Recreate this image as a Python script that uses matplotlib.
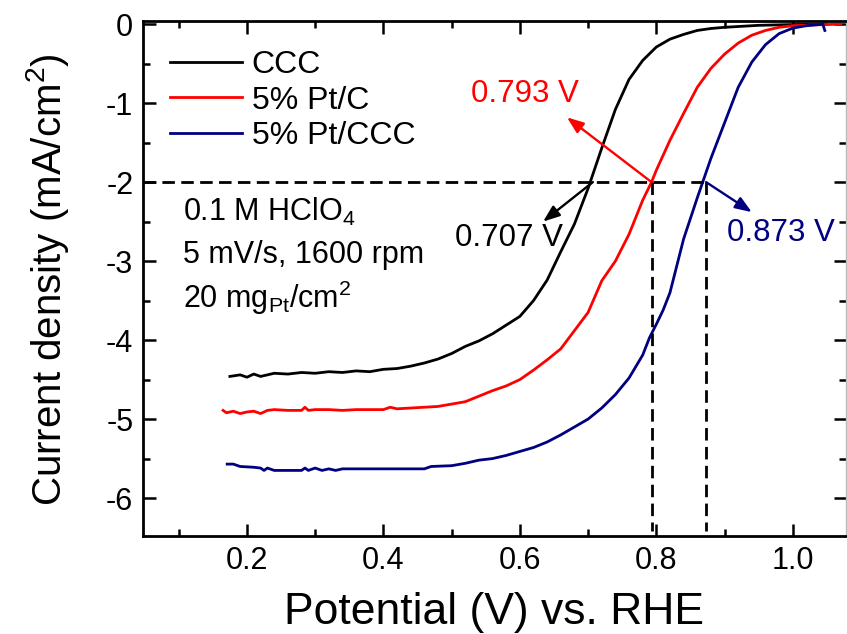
import matplotlib
matplotlib.use("Agg")
import matplotlib.pyplot as plt

plt.rcParams['font.family'] = ['Liberation Sans', 'DejaVu Sans']
plt.rcParams['mathtext.fontset'] = 'custom'
plt.rcParams['mathtext.rm'] = 'Liberation Sans'
plt.rcParams['mathtext.it'] = 'Liberation Sans:italic'
plt.rcParams['mathtext.default'] = 'regular'

# ---- data ----
ccc_v = [0.175, 0.19, 0.20, 0.21, 0.22, 0.23, 0.24, 0.26, 0.28, 0.30, 0.32, 0.34,
         0.36, 0.38, 0.40, 0.42, 0.44, 0.46, 0.48, 0.50, 0.52, 0.54, 0.56, 0.58,
         0.60, 0.62, 0.64, 0.66, 0.68, 0.70, 0.72, 0.74, 0.76, 0.78, 0.80, 0.82,
         0.84, 0.86, 0.88, 0.90, 0.95, 1.00, 1.05]
ccc_j = [-4.46, -4.44, -4.47, -4.43, -4.46, -4.44, -4.42, -4.43, -4.41, -4.42, -4.40, -4.41,
         -4.39, -4.40, -4.37, -4.36, -4.33, -4.29, -4.24, -4.17, -4.08, -4.01, -3.92, -3.81,
         -3.70, -3.50, -3.24, -2.88, -2.53, -2.08, -1.57, -1.08, -0.70, -0.46, -0.29, -0.19,
         -0.13, -0.08, -0.055, -0.04, -0.015, -0.005, 0.0]

ptc_v = [0.165, 0.17, 0.18, 0.19, 0.20, 0.21, 0.22, 0.23, 0.24, 0.26, 0.28, 0.285,
         0.29, 0.30, 0.32, 0.34, 0.36, 0.38, 0.40, 0.41, 0.42, 0.44, 0.46, 0.48,
         0.50, 0.52, 0.54, 0.56, 0.58, 0.60, 0.62, 0.64, 0.66, 0.68, 0.70, 0.72,
         0.74, 0.76, 0.78, 0.793, 0.80, 0.82, 0.84, 0.86, 0.88, 0.90, 0.92, 0.94,
         0.96, 0.98, 1.00, 1.03, 1.07]
ptc_j = [-4.89, -4.92, -4.90, -4.93, -4.91, -4.90, -4.93, -4.89, -4.88, -4.89, -4.89, -4.85,
         -4.89, -4.88, -4.88, -4.89, -4.88, -4.88, -4.88, -4.85, -4.87, -4.86, -4.85, -4.84,
         -4.81, -4.78, -4.71, -4.64, -4.58, -4.50, -4.38, -4.25, -4.11, -3.88, -3.65, -3.25,
         -3.00, -2.66, -2.23, -2.00, -1.85, -1.47, -1.13, -0.80, -0.56, -0.38, -0.24, -0.14,
         -0.08, -0.04, -0.02, -0.01, 0.0]

ptccc_v = [0.171, 0.18, 0.19, 0.21, 0.22, 0.225, 0.23, 0.24, 0.26, 0.28, 0.285, 0.29,
           0.30, 0.31, 0.32, 0.33, 0.34, 0.40, 0.46, 0.47, 0.50, 0.52, 0.54, 0.56,
           0.58, 0.60, 0.62, 0.64, 0.66, 0.68, 0.70, 0.72, 0.74, 0.76, 0.78, 0.79,
           0.80, 0.81, 0.82, 0.84, 0.86, 0.87, 0.88, 0.90, 0.92, 0.94, 0.96, 0.98,
           1.00, 1.02, 1.044, 1.047]
ptccc_j = [-5.57, -5.57, -5.60, -5.61, -5.62, -5.65, -5.62, -5.65, -5.65, -5.65, -5.62, -5.65,
           -5.62, -5.65, -5.63, -5.65, -5.63, -5.63, -5.63, -5.60, -5.59, -5.56, -5.52, -5.50,
           -5.46, -5.41, -5.36, -5.29, -5.20, -5.10, -5.00, -4.86, -4.69, -4.48, -4.19, -3.97,
           -3.80, -3.62, -3.40, -2.72, -2.20, -1.95, -1.70, -1.25, -0.80, -0.48, -0.26, -0.12,
           -0.05, -0.02, 0.0, -0.08]

labels = ['CCC', '5% Pt/C', '5% Pt/CCC']
colors = ['black', '#ff0000', '#000080']
half_wave = [0.707, 0.793, 0.873]
j_ref = -2.0

fig = plt.figure(figsize=(8.47, 6.34), dpi=100)
ax = fig.add_axes([0.1688, 0.1546, 0.8300, 0.8123])

lw = 2.0
ax.plot(ccc_v, ccc_j, color=colors[0], lw=lw, label=labels[0])
ax.plot(ptc_v, ptc_j, color=colors[1], lw=lw, label=labels[1])
ax.plot(ptccc_v, ptccc_j, color=colors[2], lw=lw, label=labels[2])

xmin, xmax = 0.0476, 1.078
ymin, ymax = -6.48, 0.04
ax.set_xlim(xmin, xmax)
ax.set_ylim(ymin, ymax)

dash = (0, (4.5, 2.3))
ax.plot([xmin, half_wave[2]], [j_ref, j_ref], color='black', lw=2.0, linestyle=dash)
ax.plot([half_wave[1], half_wave[1]], [j_ref, ymin + 0.06], color='black', lw=2.0, linestyle=dash)
ax.plot([half_wave[2], half_wave[2]], [j_ref, ymin + 0.06], color='black', lw=2.0, linestyle=dash)

ap = dict(arrowstyle='-|>,head_length=1.0,head_width=0.38', lw=1.7, shrinkA=0, shrinkB=0)
ax.annotate('', xy=(0.634, -2.5), xytext=(half_wave[0], j_ref),
            arrowprops=dict(ap, color='black'))
ax.annotate('', xy=(0.669, -1.18), xytext=(half_wave[1], j_ref),
            arrowprops=dict(ap, color='#ff0000'))
ax.annotate('', xy=(0.940, -2.38), xytext=(half_wave[2], j_ref),
            arrowprops=dict(ap, color='#000080'))

ax.text(0.505, -2.71, '%.3f V' % half_wave[0], color='black', fontsize=22.5, ha='left', va='center')
ax.text(0.686, -0.89, '%.3f V' % half_wave[1], color='#ff0000', fontsize=22.5, ha='right', va='center')
ax.text(0.903, -2.64, '%.3f V' % half_wave[2], color='#000080', fontsize=22.5, ha='left', va='center')

ax.text(0.106, -2.38, '0.1 M HClO$_4$', fontsize=22, ha='left', va='center')
ax.text(0.106, -2.92, '5 mV/s, 1600 rpm', fontsize=22, ha='left', va='center')
ax.text(0.106, -3.46, '20 mg$_{Pt}$/cm$^2$', fontsize=22, ha='left', va='center')

leg = ax.legend(loc='upper left', bbox_to_anchor=(0.016, 0.975), frameon=False, fontsize=23,
                handlelength=2.25, handletextpad=0.3, labelspacing=0.18, borderaxespad=0.2,
                borderpad=0.3)

ax.set_xticks([0.2, 0.4, 0.6, 0.8, 1.0])
ax.set_xticklabels(['0.2', '0.4', '0.6', '0.8', '1.0'])
ax.set_xticks([0.1, 0.3, 0.5, 0.7, 0.9], minor=True)
ax.set_yticks([0, -1, -2, -3, -4, -5, -6])
ax.set_yticklabels(['0', '-1', '-2', '-3', '-4', '-5', '-6'])
ax.set_yticks([-0.5, -1.5, -2.5, -3.5, -4.5, -5.5], minor=True)

ax.tick_params(which='both', direction='in', labelsize=22, width=1.8, pad=7)
ax.tick_params(which='major', length=9)
ax.tick_params(which='minor', length=5)
ax.tick_params(which='both', top=True, right=True)

for side in ['left', 'bottom', 'top']:
    ax.spines[side].set_linewidth(2.0)
ax.spines['right'].set_linewidth(1.0)
ax.spines['right'].set_color('#bbbbbb')

ax.set_xlabel('Potential (V) vs. RHE', fontsize=32, labelpad=12)
ax.set_ylabel('Current density (mA/cm$^2$)', fontsize=29)
ax.yaxis.set_label_coords(-0.103, 0.497)

fig.savefig('out.png', dpi=100)
